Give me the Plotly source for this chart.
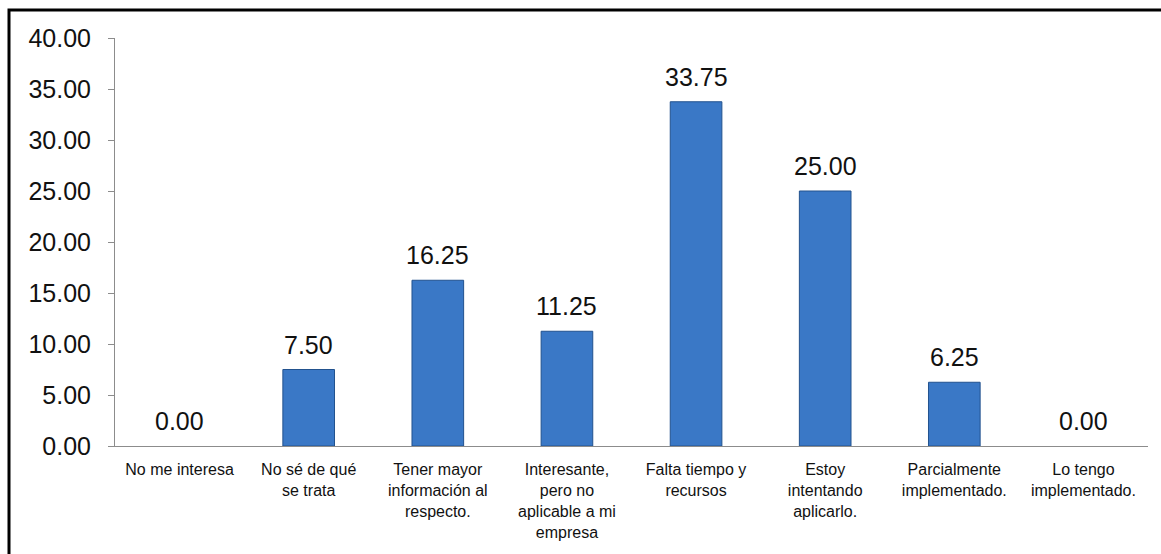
import plotly.graph_objects as go

# Survey answers and their percentages
categories = [
    "No me interesa",
    "No sé de qué<br>se trata",
    "Tener mayor<br>información al<br>respecto.",
    "Interesante,<br>pero no<br>aplicable a mi<br>empresa",
    "Falta tiempo y<br>recursos",
    "Estoy<br>intentando<br>aplicarlo.",
    "Parcialmente<br>implementado.",
    "Lo tengo<br>implementado.",
]
values = [0.00, 7.50, 16.25, 11.25, 33.75, 25.00, 6.25, 0.00]
y_ticks = [0, 5, 10, 15, 20, 25, 30, 35, 40]

W, H = 1161, 554
ml, mr, mt, mb = 115, 13, 38, 108
pw, ph = W - ml - mr, H - mt - mb

fig = go.Figure(
    go.Bar(
        x=categories,
        y=values,
        marker=dict(
            color="#3a78c6",
            line=dict(color="#22528e", width=[1 if v > 0 else 0 for v in values]),
        ),
        cliponaxis=False,
        width=0.4,
    )
)

# Value labels sitting above each bar
for cat, v in zip(categories, values):
    fig.add_annotation(
        x=cat,
        y=v,
        text=f"{v:.2f}",
        showarrow=False,
        yanchor="bottom",
        yshift=9,
        font=dict(family="Liberation Sans, Arial", size=25, color="#111111"),
    )

fig.update_layout(
    width=W,
    height=H,
    margin=dict(l=ml, r=mr, t=mt, b=mb),
    paper_bgcolor="white",
    plot_bgcolor="white",
    showlegend=False,
    font=dict(family="Liberation Sans, Arial", color="#111111"),
)

fig.update_yaxes(
    range=[0, 40],
    tickvals=y_ticks,
    tickformat=".2f",
    showgrid=False,
    zeroline=False,
    showline=True,
    linecolor="#8c8c8c",
    linewidth=1,
    ticks="outside",
    ticklen=6,
    tickcolor="#8c8c8c",
    ticklabelstandoff=12,
    tickfont=dict(size=25, color="#111111"),
)

fig.update_xaxes(
    showgrid=False,
    showline=True,
    linecolor="#8c8c8c",
    linewidth=1,
    ticks="",
    tickangle=0,
    ticklabelstandoff=9,
    tickfont=dict(size=16, color="#111111"),
)

# Outer frame around the chart area
fig.add_shape(
    type="rect",
    xref="paper",
    yref="paper",
    x0=(9 - ml) / pw,
    x1=(W + 20 - ml) / pw,
    y0=-(H + 20 - mt - ph) / ph,
    y1=(mt + ph - 10) / ph,
    line=dict(color="#000000", width=3),
    layer="above",
)

fig.write_html("out.html")
